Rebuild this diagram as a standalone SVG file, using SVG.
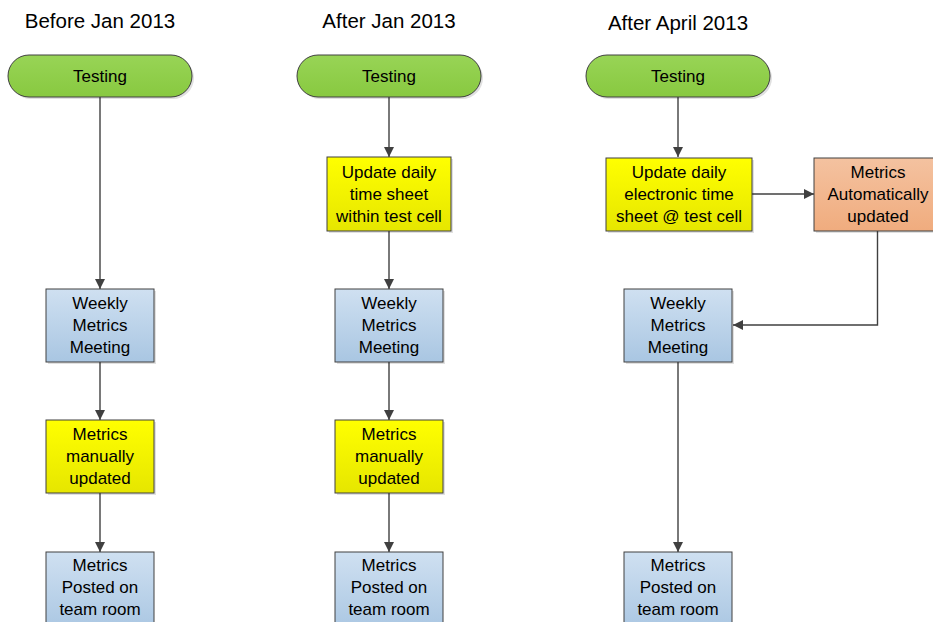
<svg xmlns="http://www.w3.org/2000/svg" width="933" height="622" viewBox="0 0 933 622">
  <defs>
    <linearGradient id="gGreen" x1="0" y1="0" x2="0" y2="1">
      <stop offset="0" stop-color="#98d456"/>
      <stop offset="1" stop-color="#88c940"/>
    </linearGradient>
    <linearGradient id="gBlue" x1="0" y1="0" x2="0" y2="1">
      <stop offset="0" stop-color="#cfe0f1"/>
      <stop offset="1" stop-color="#a9c6e2"/>
    </linearGradient>
    <linearGradient id="gYellow" x1="0" y1="0" x2="0" y2="1">
      <stop offset="0" stop-color="#ffff00"/>
      <stop offset="1" stop-color="#e6e600"/>
    </linearGradient>
    <linearGradient id="gOrange" x1="0" y1="0" x2="0" y2="1">
      <stop offset="0" stop-color="#f4c2a0"/>
      <stop offset="1" stop-color="#f0ac7e"/>
    </linearGradient>
    <marker id="arrow" viewBox="0 0 10 10" refX="10" refY="5" markerWidth="10" markerHeight="10" markerUnits="userSpaceOnUse" orient="auto">
      <path d="M0,0 L10,5 L0,10 z" fill="#404040"/>
    </marker>
  </defs>
  <style>
    .title { font-family: "Liberation Sans", Arial, sans-serif; font-size: 20.5px; fill: #000; text-anchor: middle; }
    .lbl { font-family: "Liberation Sans", Arial, sans-serif; font-size: 17px; fill: #000; text-anchor: middle; }
    .shadow { fill: #000; opacity: 0.12; }
    .box { stroke: #404040; stroke-width: 1; }
    .green { fill: url(#gGreen); }
    .blue { fill: url(#gBlue); }
    .yellow { fill: url(#gYellow); }
    .orange { fill: url(#gOrange); }
    .conn { fill: none; stroke: #404040; stroke-width: 1.4; marker-end: url(#arrow); }
  </style>

  <rect width="933" height="622" fill="#ffffff"/>

  <!-- column headings -->
  <text class="title" x="100" y="28">Before Jan 2013</text>
  <text class="title" x="389" y="28">After Jan 2013</text>
  <text class="title" x="678" y="30">After April 2013</text>

  <!-- connectors -->
  <g id="connectors">
    <path class="conn" d="M100,97 L100,289"/>
    <path class="conn" d="M100,362 L100,420"/>
    <path class="conn" d="M100,493 L100,552"/>

    <path class="conn" d="M389,97 L389,157"/>
    <path class="conn" d="M389,231 L389,289"/>
    <path class="conn" d="M389,362 L389,420"/>
    <path class="conn" d="M389,493 L389,552"/>

    <path class="conn" d="M678,97 L678,157"/>
    <path class="conn" d="M752,194 L814,194"/>
    <path class="conn" d="M877.5,231 L877.5,325 L733,325"/>
    <path class="conn" d="M678,362 L678,552"/>
  </g>

  <!-- column 1 -->
  <g id="testing1">
    <rect class="shadow" x="10" y="57" width="184" height="42" rx="21"/>
    <rect class="box green" x="8" y="55" width="184" height="42" rx="21"/>
    <text class="lbl" x="100" y="82">Testing</text>
  </g>
  <g id="weekly1">
    <rect class="shadow" x="48" y="291" width="108" height="73"/>
    <rect class="box blue" x="46" y="289" width="108" height="73"/>
    <text class="lbl" x="100" y="309">Weekly</text>
    <text class="lbl" x="100" y="331">Metrics</text>
    <text class="lbl" x="100" y="353">Meeting</text>
  </g>
  <g id="manual1">
    <rect class="shadow" x="48" y="422" width="108" height="73"/>
    <rect class="box yellow" x="46" y="420" width="108" height="73"/>
    <text class="lbl" x="100" y="440">Metrics</text>
    <text class="lbl" x="100" y="462">manually</text>
    <text class="lbl" x="100" y="484">updated</text>
  </g>
  <g id="posted1">
    <rect class="box blue" x="46" y="552" width="108" height="80"/>
    <text class="lbl" x="100" y="571">Metrics</text>
    <text class="lbl" x="100" y="593">Posted on</text>
    <text class="lbl" x="100" y="615">team room</text>
  </g>

  <!-- column 2 -->
  <g id="testing2">
    <rect class="shadow" x="299" y="57" width="184" height="42" rx="21"/>
    <rect class="box green" x="297" y="55" width="184" height="42" rx="21"/>
    <text class="lbl" x="389" y="82">Testing</text>
  </g>
  <g id="timesheet2">
    <rect class="shadow" x="329" y="159" width="124" height="74"/>
    <rect class="box yellow" x="327" y="157" width="124" height="74"/>
    <text class="lbl" x="389" y="178">Update daily</text>
    <text class="lbl" x="389" y="200">time sheet</text>
    <text class="lbl" x="389" y="222">within test cell</text>
  </g>
  <g id="weekly2">
    <rect class="shadow" x="337" y="291" width="108" height="73"/>
    <rect class="box blue" x="335" y="289" width="108" height="73"/>
    <text class="lbl" x="389" y="309">Weekly</text>
    <text class="lbl" x="389" y="331">Metrics</text>
    <text class="lbl" x="389" y="353">Meeting</text>
  </g>
  <g id="manual2">
    <rect class="shadow" x="337" y="422" width="108" height="73"/>
    <rect class="box yellow" x="335" y="420" width="108" height="73"/>
    <text class="lbl" x="389" y="440">Metrics</text>
    <text class="lbl" x="389" y="462">manually</text>
    <text class="lbl" x="389" y="484">updated</text>
  </g>
  <g id="posted2">
    <rect class="box blue" x="335" y="552" width="108" height="80"/>
    <text class="lbl" x="389" y="571">Metrics</text>
    <text class="lbl" x="389" y="593">Posted on</text>
    <text class="lbl" x="389" y="615">team room</text>
  </g>

  <!-- column 3 -->
  <g id="testing3">
    <rect class="shadow" x="588" y="57" width="184" height="42" rx="21"/>
    <rect class="box green" x="586" y="55" width="184" height="42" rx="21"/>
    <text class="lbl" x="678" y="82">Testing</text>
  </g>
  <g id="timesheet3">
    <rect class="shadow" x="608" y="160" width="146" height="73"/>
    <rect class="box yellow" x="606" y="158" width="146" height="73"/>
    <text class="lbl" x="679" y="178">Update daily</text>
    <text class="lbl" x="679" y="200">electronic time</text>
    <text class="lbl" x="679" y="222">sheet @ test cell</text>
  </g>
  <g id="auto3">
    <rect class="shadow" x="816" y="160" width="128" height="73"/>
    <rect class="box orange" x="814" y="158" width="128" height="73"/>
    <text class="lbl" x="878" y="178">Metrics</text>
    <text class="lbl" x="878" y="200">Automatically</text>
    <text class="lbl" x="878" y="222">updated</text>
  </g>
  <g id="weekly3">
    <rect class="shadow" x="626" y="291" width="108" height="73"/>
    <rect class="box blue" x="624" y="289" width="108" height="73"/>
    <text class="lbl" x="678" y="309">Weekly</text>
    <text class="lbl" x="678" y="331">Metrics</text>
    <text class="lbl" x="678" y="353">Meeting</text>
  </g>
  <g id="posted3">
    <rect class="box blue" x="624" y="552" width="108" height="80"/>
    <text class="lbl" x="678" y="571">Metrics</text>
    <text class="lbl" x="678" y="593">Posted on</text>
    <text class="lbl" x="678" y="615">team room</text>
  </g>
</svg>
